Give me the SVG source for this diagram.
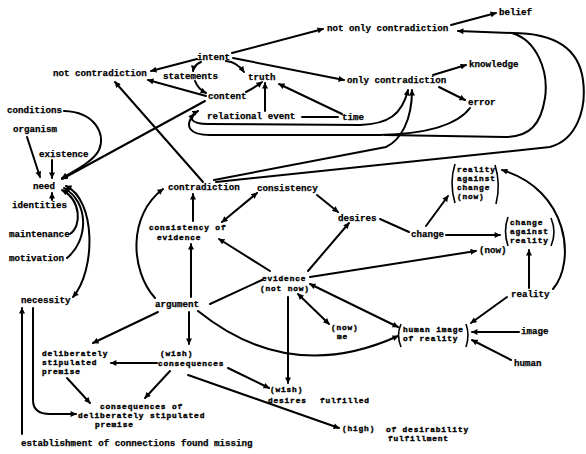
<svg xmlns="http://www.w3.org/2000/svg" width="586" height="454" viewBox="0 0 586 454">
  <defs>
    <style>
      .t { font-family: "Liberation Mono", "DejaVu Sans Mono", monospace; font-size: 9.2px; font-weight: bold; fill: #000; stroke: #000; stroke-width: 0.25px; }
      .m { font-size: 7.8px; letter-spacing: 0.85px; stroke-width: 0.4px; }
      .c path { fill: none; stroke: #000; stroke-width: 2; stroke-linecap: round; }
      .a { marker-end: url(#ah); }
      .b { marker-end: url(#ah); marker-start: url(#ah); }
      .br { fill: none; stroke: #000; stroke-width: 1.6; }
    </style>
    <marker id="ah" viewBox="0 0 10 10" refX="9" refY="5" markerWidth="7" markerHeight="6" markerUnits="userSpaceOnUse" orient="auto-start-reverse">
      <path d="M0,0 L10,5 L0,10 Z" fill="#000"/>
    </marker>
  </defs>
  <rect width="586" height="454" fill="#fff"/>

  <!-- connectors -->
  <g id="connectors" class="c">
    <!-- upper cluster -->
    <path class="a" d="M232,53 L323,29"/>
    <path class="a" d="M451,25 L496,13"/>
    <path class="a" d="M233,58 L344,80"/>
    <path class="a" d="M433,75 L466,65"/>
    <path class="a" d="M439,87 L465,100"/>
    <path class="a" d="M197,59 L151,71"/>
    <path class="a" d="M201,62 Q194,65 193,71"/>
    <path class="a" d="M226,61 Q237,62 244,72"/>
    <path class="a" d="M195,81 Q198,89 206,93"/>
    <path class="a" d="M246,92 Q254,88 262,82"/>
    <path class="a" d="M265,111 L265,83"/>
    <path class="a" d="M342,114 L279,84"/>
    <path d="M338,117 L302,117"/>
    <path class="a" d="M206,96 L148,80"/>
    <path class="a" d="M203,182 L115,82"/>
    <path class="a" d="M205,101 L62,179"/>

    <!-- loops back to content -->
    <path class="b" d="M408,90 C402,115 388,124 360,125 L208,124 C190,124 187,117 198,111"/>
    <path class="a" d="M470,108 C455,128 420,134 380,135 L210,135 C189,135 184,126 194,114"/>
    <path class="a" d="M512,33 C536,40 549,70 545,98 C541,124 530,137 505,137 L385,135 M512,33 L458,31"/>
    <path class="a" d="M214,180 L386,147 C401,140 412,120 412,90"/>
    <path d="M216,182 L550,147 C576,140 587,110 583,80 C579,50 556,33 512,33"/>

    <!-- need cluster -->
    <path class="a" d="M64,111 C95,112 106,134 99,150 C94,160 80,168 62,178"/>
    <path class="a" d="M27,137 L40,177"/>
    <path class="a" d="M52,160 L52,178"/>
    <path class="a" d="M52,200 L52,193"/>
    <path class="a" d="M70,234 C82,226 81,200 62,190"/>
    <path class="a" d="M67,258 C89,240 89,202 64,188"/>
    <path class="b" d="M73,297 C96,270 96,200 66,186"/>
    <path class="a" d="M33,308 L33,400 Q33,414 50,414 L76,414"/>
    <path class="a" d="M22,434 L22,308"/>

    <!-- middle cluster -->
    <path class="a" d="M155,298 C130,270 128,215 163,189"/>
    <path class="a" d="M193,221 L193,194"/>
    <path class="a" d="M191,297 L191,244"/>
    <path class="b" d="M257,193 L222,222"/>
    <path class="a" d="M317,195 L338,212"/>
    <path class="a" d="M270,271 L219,239"/>
    <path class="a" d="M308,271 L349,223"/>
    <path d="M380,219 L409,232"/>
    <path class="a" d="M426,226 L448,196"/>
    <path class="a" d="M446,235 L500,235"/>
    <path class="a" d="M310,277 L476,251"/>
    <path class="a" d="M529,288 L529,250"/>
    <path class="a" d="M553,289 C576,262 569,190 502,170"/>
    <path class="a" d="M507,297 L471,323"/>
    <path class="a" d="M519,332 L472,332"/>
    <path class="a" d="M511,360 L472,340"/>
    <path class="b" d="M310,284 L398,327"/>
    <path class="a" d="M198,311 Q290,385 398,336"/>
    <path class="b" d="M298,294 L329,324"/>
    <path class="a" d="M288,297 L288,383"/>
    <path d="M210,304 L262,280"/>

    <!-- lower cluster -->
    <path class="a" d="M158,312 L93,343"/>
    <path class="a" d="M189,312 L189,344"/>
    <path class="a" d="M157,363 L111,363"/>
    <path class="a" d="M170,371 L145,398"/>
    <path class="a" d="M67,378 L90,403"/>
    <path class="a" d="M228,368 L269,388"/>
    <path class="a" d="M188,375 L339,428"/>
  </g>

  <!-- nodes -->
  <g id="belief"><text class="t" x="499" y="15">belief</text></g>
  <g id="not-only-contradiction"><text class="t" x="327" y="31">not only contradiction</text></g>
  <g id="intent"><text class="t" x="197" y="60">intent</text></g>
  <g id="not-contradiction"><text class="t" x="53" y="76">not contradiction</text></g>
  <g id="statements"><text class="t" x="163" y="79">statements</text></g>
  <g id="truth"><text class="t" x="248" y="80">truth</text></g>
  <g id="content"><text class="t" x="208" y="99">content</text></g>
  <g id="relational-event"><text class="t" x="207" y="119">relational event</text></g>
  <g id="time"><text class="t" x="342" y="120">time</text></g>
  <g id="only-contradiction"><text class="t" x="347" y="83">only contradiction</text></g>
  <g id="knowledge"><text class="t" x="469" y="67">knowledge</text></g>
  <g id="error"><text class="t" x="468" y="105">error</text></g>

  <g id="conditions"><text class="t" x="7" y="113">conditions</text></g>
  <g id="organism"><text class="t" x="13" y="132">organism</text></g>
  <g id="existence"><text class="t" x="39" y="157">existence</text></g>
  <g id="need"><text class="t" x="33" y="189">need</text></g>
  <g id="identities"><text class="t" x="12" y="208">identities</text></g>
  <g id="maintenance"><text class="t" x="9" y="237">maintenance</text></g>
  <g id="motivation"><text class="t" x="9" y="261">motivation</text></g>
  <g id="necessity"><text class="t" x="21" y="303">necessity</text></g>

  <g id="contradiction"><text class="t" x="168" y="190">contradiction</text></g>
  <g id="consistency"><text class="t" x="257" y="191">consistency</text></g>
  <g id="consistency-of-evidence">
    <text class="t m" x="149" y="230">consistency of</text>
    <text class="t m" x="157" y="240">evidence</text>
  </g>
  <g id="desires"><text class="t" x="338" y="221">desires</text></g>
  <g id="change"><text class="t" x="411" y="237">change</text></g>
  <g id="reality-against-change">
    <path class="br" d="M455,164 Q449,183 455,203"/>
    <path class="br" d="M495,165 Q501,184 496,204"/>
    <text class="t m" x="457" y="172">reality</text>
    <text class="t m" x="457" y="181">against</text>
    <text class="t m" x="457" y="190">change</text>
    <text class="t m" x="457" y="199">(now)</text>
  </g>
  <g id="change-against-reality">
    <path class="br" d="M508,217 Q503,231 508,246"/>
    <path class="br" d="M551,218 Q557,232 551,246"/>
    <text class="t m" x="510" y="225">change</text>
    <text class="t m" x="510" y="234">against</text>
    <text class="t m" x="510" y="243">reality</text>
  </g>
  <g id="now"><text class="t" x="479" y="253">(now)</text></g>
  <g id="reality"><text class="t" x="511" y="297">reality</text></g>
  <g id="evidence-not-now">
    <text class="t m" x="262" y="281">evidence</text>
    <text class="t m" x="260" y="291">(not now)</text>
  </g>
  <g id="argument"><text class="t" x="155" y="307">argument</text></g>
  <g id="now-me">
    <text class="t m" x="331" y="330">(now)</text>
    <text class="t m" x="337" y="339">me</text>
  </g>
  <g id="human-image-of-reality">
    <path class="br" d="M401,324 Q396,335 401,347"/>
    <path class="br" d="M466,324 Q470,335 466,347"/>
    <text class="t m" x="403" y="332">human image</text>
    <text class="t m" x="403" y="341">of reality</text>
  </g>
  <g id="image"><text class="t" x="521" y="334">image</text></g>
  <g id="human"><text class="t" x="514" y="366">human</text></g>

  <g id="deliberately-stipulated-premise">
    <text class="t m" x="42" y="356">deliberately</text>
    <text class="t m" x="42" y="365">stipulated</text>
    <text class="t m" x="42" y="374">premise</text>
  </g>
  <g id="wish-consequences">
    <text class="t m" x="160" y="356">(wish)</text>
    <text class="t m" x="158" y="366">consequences</text>
  </g>
  <g id="consequences-of-premise">
    <text class="t m" x="100" y="409">consequences of</text>
    <text class="t m" x="78" y="418">deliberately stipulated</text>
    <text class="t m" x="95" y="427">premise</text>
  </g>
  <g id="wish-desires-fulfilled">
    <text class="t m" x="270" y="392">(wish)</text>
    <text class="t m" x="268" y="403">desires</text>
    <text class="t m" x="320" y="403">fulfilled</text>
  </g>
  <g id="high-desirability">
    <text class="t m" x="342" y="431">(high)</text>
    <text class="t m" x="386" y="432">of desirability</text>
    <text class="t m" x="388" y="441">fulfillment</text>
  </g>
  <g id="establishment"><text class="t" x="21" y="446">establishment of connections found missing</text></g>
</svg>
